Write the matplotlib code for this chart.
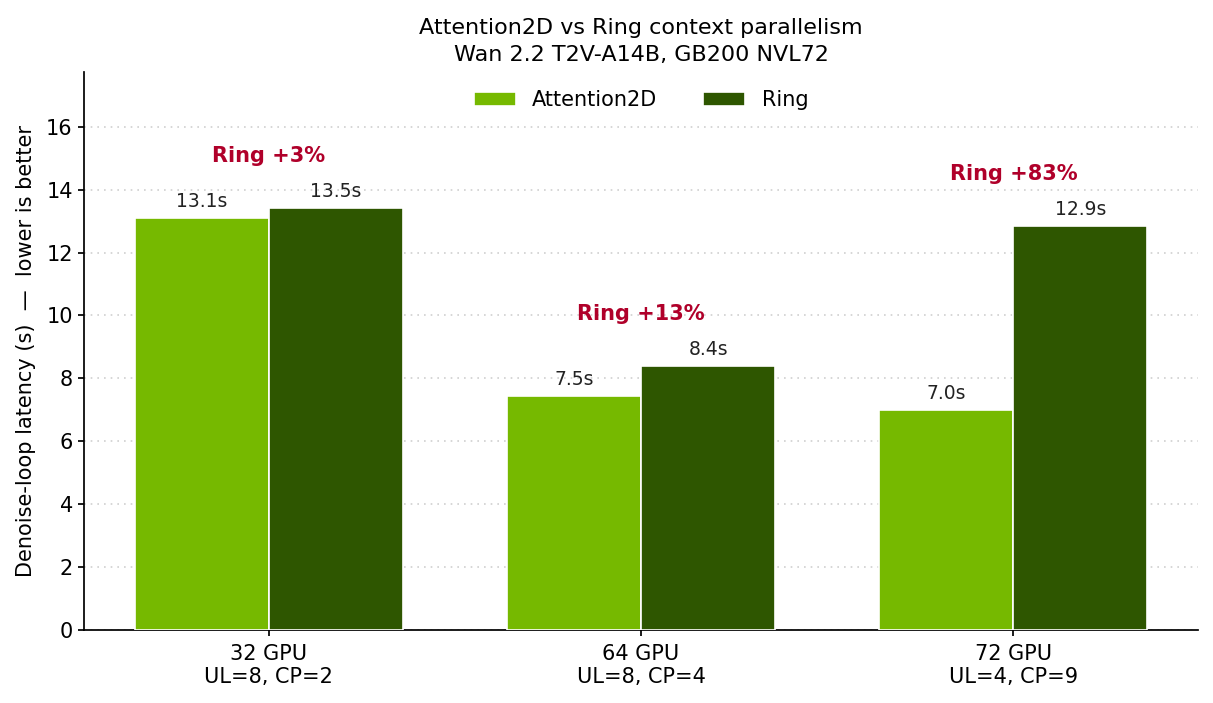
import matplotlib
matplotlib.use("Agg")
from matplotlib import pyplot as plt
import numpy as np

# data
groups = ["32 GPU\nUL=8, CP=2", "64 GPU\nUL=8, CP=4", "72 GPU\nUL=4, CP=9"]
attn2d = [13.1, 7.45, 7.0]
ring = [13.42, 8.4, 12.85]
attn2d_labels = ["13.1s", "7.5s", "7.0s"]
ring_labels = ["13.5s", "8.4s", "12.9s"]
ring_delta = ["Ring +3%", "Ring +13%", "Ring +83%"]

green = "#76b900"
dark = "#2e5600"
red = "#b0002a"

s = 1.25  # reference was drawn at a larger scale
plt.rcParams["axes.linewidth"] = 1.0 * s
plt.rcParams["xtick.major.width"] = 1.0 * s
plt.rcParams["ytick.major.width"] = 1.0 * s
plt.rcParams["xtick.major.size"] = 3.5 * s
plt.rcParams["ytick.major.size"] = 3.5 * s

fig, ax = plt.subplots(figsize=(12.13, 7.03), dpi=100)
fig.subplots_adjust(left=0.069, right=0.988, top=0.898, bottom=0.104)

x = np.arange(len(groups))
w = 0.36
b1 = ax.bar(x - w / 2, attn2d, w, color=green, edgecolor="white", linewidth=1.2, label="Attention2D", zorder=3)
b2 = ax.bar(x + w / 2, ring, w, color=dark, edgecolor="white", linewidth=1.2, label="Ring", zorder=3)

for rect, lab in zip(b1, attn2d_labels):
    ax.annotate(lab, (rect.get_x() + rect.get_width() / 2, rect.get_height()),
                xytext=(0, 5), textcoords="offset points", ha="center", va="bottom",
                fontsize=13.5, color="#222222")
for rect, lab in zip(b2, ring_labels):
    ax.annotate(lab, (rect.get_x() + rect.get_width() / 2, rect.get_height()),
                xytext=(0, 5), textcoords="offset points", ha="center", va="bottom",
                fontsize=13.5, color="#222222")

for i, txt in enumerate(ring_delta):
    top = max(attn2d[i], ring[i])
    ax.text(x[i], top + 1.65, txt, ha="center", va="center", fontsize=15,
            fontweight="bold", color=red)

ax.set_xticks(x)
ax.set_xticklabels(groups, fontsize=15)
ax.tick_params(axis="x", pad=6)
ax.tick_params(axis="y", labelsize=15)
ax.set_xlim(-0.497, 2.497)
ax.set_ylim(0, 17.75)
ax.set_yticks(np.arange(0, 17, 2))
ax.set_ylabel("Denoise-loop latency (s)  —  lower is better", fontsize=15, labelpad=7)
ax.set_title("Attention2D vs Ring context parallelism\nWan 2.2 T2V-A14B, GB200 NVL72",
             fontsize=16, pad=8, linespacing=1.4)

ax.grid(axis="y", linestyle=(0, (1, 3)), color="#cfcfcf", linewidth=1.2, zorder=0)
ax.spines["top"].set_visible(False)
ax.spines["right"].set_visible(False)
ax.legend(loc="upper center", ncol=2, frameon=False, fontsize=15, handlelength=2.0, columnspacing=2.2)

plt.savefig("out.png", dpi=100)
